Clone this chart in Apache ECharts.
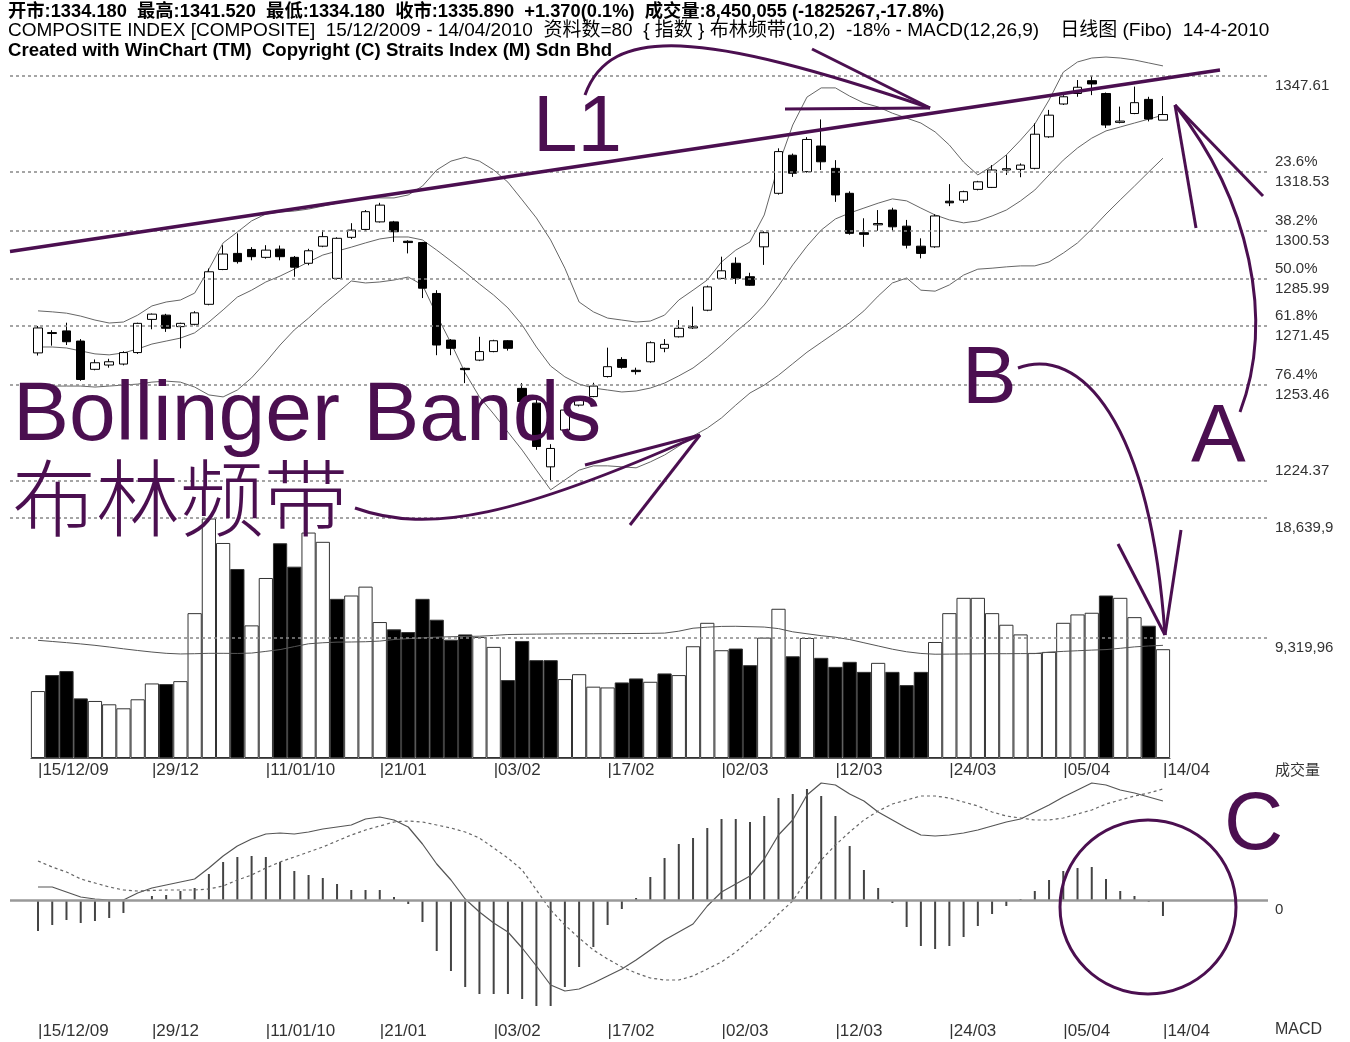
<!DOCTYPE html>
<html>
<head>
<meta charset="utf-8">
<script src="https://cdn.jsdelivr.net/npm/echarts@6/dist/echarts.min.js"></script>
<style>
html, body { margin: 0; padding: 0; background: #fff; }
#chart { width: 1350px; height: 1042px; }
</style>
</head>
<body>
<div id="chart"></div>
<script>
// trading days 15/12/2009 - 14/04/2010 (80 bars)
let dates = ['15/12','16/12','17/12','21/12','22/12','23/12','24/12','28/12','29/12','30/12',
  '31/12','04/01','05/01','06/01','07/01','08/01','11/01','12/01','13/01','14/01',
  '15/01','18/01','19/01','20/01','21/01','22/01','25/01','26/01','27/01','28/01',
  '29/01','02/02','03/02','04/02','05/02','08/02','09/02','10/02','11/02','12/02',
  '17/02','18/02','19/02','22/02','23/02','24/02','25/02','01/03','02/03','03/03',
  '04/03','05/03','08/03','09/03','10/03','11/03','12/03','15/03','16/03','17/03',
  '18/03','19/03','22/03','23/03','24/03','25/03','26/03','29/03','30/03','31/03',
  '01/04','02/04','05/04','06/04','07/04','08/04','09/04','12/04','13/04','14/04'];

let tickIdx = [0, 8, 16, 24, 32, 40, 48, 56, 64, 72, 79];
let tickText = ['15/12/09', '29/12', '11/01/10', '21/01', '03/02', '17/02', '02/03', '12/03', '24/03', '05/04', '14/04'];

let open = [1263.3,1269.2,1270.0,1266.9,1258.3,1259.6,1259.9,1263.4,1273.5,1274.8,
  1271.3,1272.0,1278.1,1288.7,1293.6,1294.8,1292.4,1294.9,1292.4,1290.6,
  1295.8,1286.0,1298.5,1300.9,1303.2,1303.2,1297.3,1296.9,1281.4,1267.2,
  1258.6,1261.1,1263.7,1267.0,1252.5,1248.0,1228.6,1239.8,1247.4,1250.0,
  1256.1,1261.3,1258.0,1260.6,1264.7,1268.2,1270.9,1276.3,1286.0,1290.6,
  1286.5,1295.6,1311.9,1323.5,1318.5,1326.3,1319.5,1311.9,1299.9,1302.3,
  1306.8,1301.9,1295.8,1295.6,1309.5,1309.8,1313.1,1313.7,1319.0,1319.2,
  1319.5,1329.1,1339.1,1342.3,1346.2,1342.3,1333.5,1336.2,1340.5,1334.18];
let high = [1271.5,1270.2,1272.5,1267.5,1261.3,1261.5,1263.8,1272.5,1275.3,1275.2,
  1272.5,1276.0,1289.0,1296.1,1299.7,1295.5,1296.1,1296.0,1292.8,1295.0,
  1300.7,1298.5,1302.8,1306.8,1309.0,1303.5,1297.6,1297.1,1282.4,1267.5,
  1258.8,1268.2,1267.3,1267.2,1254.1,1249.5,1235.5,1246.5,1250.0,1254.2,
  1264.9,1262.0,1258.8,1266.8,1267.5,1273.3,1277.4,1283.8,1292.6,1292.4,
  1287.7,1300.3,1325.6,1324.0,1329.0,1334.4,1322.0,1312.5,1304.3,1306.8,
  1307.5,1303.8,1298.2,1305.5,1314.7,1312.7,1315.7,1320.5,1323.5,1321.0,
  1333.2,1337.3,1341.8,1346.4,1347.61,1342.6,1338.3,1344.4,1341.3,1341.52];
let low = [1262.5,1265.5,1265.7,1254.8,1258.0,1258.8,1259.5,1263.0,1270.5,1269.7,
  1264.7,1271.7,1277.8,1288.5,1290.5,1291.5,1292.0,1291.5,1286.5,1290.0,
  1295.5,1285.5,1298.0,1300.5,1303.0,1297.1,1293.6,1280.0,1262.6,1262.6,
  1254.1,1260.8,1263.5,1264.0,1247.5,1233.8,1224.37,1239.5,1247.0,1249.8,
  1255.8,1258.5,1256.7,1260.3,1263.5,1268.0,1270.6,1276.0,1285.8,1284.3,
  1283.7,1290.1,1311.5,1316.9,1318.2,1319.0,1309.3,1299.3,1295.6,1300.5,
  1300.5,1295.1,1292.1,1295.3,1308.0,1309.0,1312.8,1313.5,1317.5,1316.8,
  1319.2,1328.8,1338.8,1341.3,1341.8,1331.8,1333.2,1336.0,1333.8,1334.18];
let close = [1270.9,1269.5,1266.7,1255.2,1260.3,1260.6,1263.4,1272.3,1275.1,1270.8,
  1272.3,1275.5,1288.0,1293.4,1291.1,1292.6,1294.6,1292.6,1289.4,1294.4,
  1298.7,1298.2,1300.7,1306.3,1308.3,1300.2,1296.9,1283.0,1265.7,1264.7,
  1258.2,1263.7,1267.0,1264.7,1248.5,1234.8,1234.2,1245.9,1249.5,1253.2,
  1259.1,1258.9,1257.6,1266.4,1265.9,1270.8,1271.3,1283.4,1288.3,1286.0,
  1283.9,1299.9,1324.6,1318.0,1328.3,1321.5,1311.4,1299.7,1299.4,1302.7,
  1301.7,1296.1,1293.6,1305.0,1309.0,1312.4,1315.4,1319.0,1319.4,1320.5,
  1329.9,1335.7,1341.3,1344.2,1345.2,1332.7,1333.9,1339.5,1334.52,1335.89];

// Bollinger (10,2)
let bbUpper = [1276.1,1275.8,1275.4,1274.5,1273.3,1272.4,1272.7,1274.8,1277.6,1278.8,
  1279.4,1281.5,1288.8,1296.8,1300.1,1303.5,1305.6,1306.2,1306.5,1307.1,
  1308.0,1308.9,1309.9,1310.5,1310.5,1310.5,1311.4,1314.1,1319.0,1321.7,
  1322.9,1321.7,1319.0,1315.3,1309.9,1304.4,1297.7,1289.1,1278.8,1275.8,
  1273.9,1273.3,1272.7,1273.0,1274.8,1279.4,1282.4,1285.5,1291.0,1294.6,
  1297.1,1305.3,1320.5,1332.7,1341.2,1344.0,1344.0,1341.5,1339.4,1338.2,
  1336.3,1334.8,1333.3,1330.6,1326.6,1321.4,1317.5,1320.2,1323.6,1328.1,
  1333.0,1340.3,1348.8,1351.9,1353.1,1353.4,1353.1,1352.5,1351.6,1350.7];
let bbMid = [1265.1,1265.1,1264.8,1263.9,1263.0,1262.7,1263.3,1264.5,1266.0,1266.9,
  1267.8,1269.4,1272.7,1276.4,1280.3,1282.4,1284.9,1286.7,1288.8,1291.0,
  1293.1,1294.3,1295.5,1296.8,1298.0,1298.6,1298.6,1297.7,1294.6,1291.3,
  1287.9,1284.3,1280.9,1277.0,1271.8,1265.1,1259.3,1256.0,1253.8,1252.6,
  1252.0,1251.4,1251.7,1252.6,1254.1,1256.3,1258.7,1262.0,1265.7,1269.7,
  1273.3,1277.9,1283.7,1290.1,1295.8,1300.7,1304.1,1305.9,1307.4,1308.9,
  1310.2,1309.6,1307.4,1305.3,1303.8,1302.9,1303.5,1305.0,1306.8,1309.6,
  1312.9,1317.5,1322.0,1325.7,1328.7,1330.9,1332.1,1333.3,1334.5,1335.7];
let bbLower = [1253.5,1253.2,1253.2,1253.2,1252.9,1253.2,1253.5,1253.8,1254.4,1254.7,
  1254.4,1252.9,1250.5,1249.9,1252.0,1255.7,1260.5,1265.7,1270.3,1273.9,
  1277.9,1281.5,1285.2,1284.6,1284.9,1285.5,1286.4,1284.0,1274.8,1266.3,
  1257.2,1249.9,1244.7,1239.2,1233.7,1227.6,1221.6,1224.6,1227.6,1228.9,
  1228.9,1228.6,1228.3,1230.1,1232.2,1234.9,1238.0,1240.4,1243.5,1247.4,
  1251.1,1253.5,1256.5,1260.0,1263.5,1266.5,1269.5,1272.5,1276.1,1280.6,
  1284.6,1286.1,1282.4,1282.1,1284.0,1287.0,1288.8,1289.1,1289.5,1289.8,
  1289.8,1291.0,1293.7,1296.8,1301.0,1305.6,1309.9,1314.1,1318.4,1322.6];

// volume ('000) and its moving average
let volume = [5200,6440,6750,4630,4430,4170,3860,4560,5790,5740,
  5970,11250,18600,16700,14680,10300,13980,16680,14860,17510,
  16790,12360,12620,13310,10560,9990,9780,12360,10740,9190,
  9600,9400,8630,6050,9090,7600,7600,6130,6510,5540,
  5480,5870,6180,5920,6570,6440,8680,10500,8370,8500,
  7210,9350,11590,7900,9320,7780,7080,7470,6690,7390,
  6690,5660,6690,9010,11250,12440,12440,11250,10350,9600,
  8160,8240,10500,11150,11280,12620,12440,10940,10275,8450];
let volMA = [9140,9050,8960,8860,8750,8620,8480,8350,8230,8130,
  8080,8100,8130,8130,8120,8150,8280,8420,8650,8870,
  8950,9000,9010,9030,9080,9200,9270,9330,9390,9420,
  9440,9460,9520,9590,9610,9620,9630,9640,9645,9650,
  9655,9660,9670,9680,9700,9850,10080,10160,10220,10230,
  10200,10170,10050,9800,9650,9500,9380,9200,8950,8700,
  8450,8250,8120,8060,8070,8080,8090,8100,8100,8110,
  8110,8220,8280,8330,8380,8420,8520,8630,8700,8750];

// MACD(12,26,9)
let macdHist = [-3.1,-2.5,-2.0,-2.3,-2.1,-1.8,-1.3,-0.1,0.4,0.5,
  0.9,1.2,2.6,3.8,4.3,4.4,4.3,3.8,2.9,2.5,
  2.2,1.6,1.0,1.0,1.0,0.3,-0.4,-2.2,-5.1,-7.1,
  -8.7,-9.4,-9.4,-9.4,-9.9,-10.6,-10.6,-8.7,-6.7,-4.7,
  -2.5,-0.9,0.2,2.3,4.2,5.6,6.2,7.2,8.1,8.1,
  7.8,8.4,10.2,10.6,11.1,10.4,8.4,5.4,3.0,1.2,
  -0.3,-2.7,-4.6,-4.9,-4.6,-3.7,-2.6,-1.4,-0.6,0.1,
  0.9,2.0,2.9,3.2,3.3,2.1,0.9,0.4,-0.2,-1.6];
let macdDif = [1.3,1.3,0.8,0.3,0.1,0.0,0.0,0.7,1.2,1.5,
  1.8,2.1,3.2,4.4,5.4,6.1,6.6,6.7,6.6,6.8,
  7.1,7.3,7.5,8.1,8.3,8.0,7.3,5.6,3.6,2.0,
  0.1,-1.2,-2.3,-3.2,-4.8,-6.6,-8.5,-9.1,-8.9,-8.3,
  -7.6,-6.9,-6.0,-5.0,-4.0,-3.2,-2.4,-0.6,0.8,1.6,
  2.4,4.1,6.5,8.0,10.5,11.7,11.5,10.6,9.9,8.8,
  8.0,7.2,6.5,6.4,6.5,6.7,7.0,7.4,7.8,8.1,
  8.8,9.5,10.3,11.0,11.7,11.5,11.0,10.7,10.3,9.9];
let macdDea = [3.9,3.3,2.8,2.1,1.7,1.3,1.0,0.9,0.95,1.0,
  1.0,1.0,1.1,1.4,2.0,2.5,3.2,3.8,4.3,4.8,
  5.3,5.9,6.5,7.0,7.4,7.8,7.9,7.8,7.5,7.2,
  6.8,6.2,5.2,4.2,3.0,1.0,-1.0,-2.5,-3.8,-5.0,
  -5.9,-6.7,-7.3,-7.8,-8.0,-8.0,-7.6,-6.9,-6.2,-5.2,
  -4.0,-2.8,-1.4,-0.1,2.0,4.0,5.5,6.8,8.0,8.9,
  9.6,10.0,10.4,10.4,10.2,9.8,9.4,8.8,8.4,8.2,
  8.0,8.0,8.2,8.6,9.0,9.6,10.0,10.4,10.7,11.1];

// fibo levels and right-hand scale labels
let fibLevels = [1347.61, 1318.53, 1300.53, 1285.99, 1271.45, 1253.46, 1224.37];
let fibPct = ['', '23.6%', '38.2%', '50.0%', '61.8%', '76.4%', ''];
let volLevels = [18639.9, 9319.96];
let volLevelText = ['18,639,9', '9,319,96'];

let myChart = echarts.init(document.getElementById('chart'));

let purple = '#4b0f50';
let gridL = 30.88, gridW = 1139.2;
let axisFont = '"Liberation Sans", Arial, sans-serif';

let tickMap = {};
tickIdx.forEach((k, j) => { tickMap[k] = tickText[j]; });

let candles = open.map((o, i) => [o, close[i], low[i], high[i]]);
let volBars = volume.map((v, i) => {
  let up = i === 0 ? close[i] >= open[i] : close[i] >= close[i - 1];
  return { value: v, itemStyle: { color: up ? '#fff' : '#000' } };
});

function dateAxis(grid, margin) {
  return {
    type: 'category', gridIndex: grid, data: dates, boundaryGap: true,
    axisTick: { show: false },
    axisLine: { show: grid === 1, lineStyle: { color: '#555', width: 1 } },
    axisLabel: {
      interval: (i) => i in tickMap,
      formatter: (v, i) => '|' + tickMap[i],
      align: 'left', margin: margin, color: '#333',
      fontFamily: axisFont, fontSize: 17
    },
    splitLine: { show: false }
  };
}

function hiddenY(grid, min, max) {
  return { type: 'value', gridIndex: grid, min: min, max: max, show: false, splitLine: { show: false } };
}

function levelLine(grid, items, lineStyle) {
  return {
    type: 'line', xAxisIndex: grid, yAxisIndex: grid, data: [], silent: true, z: 1,
    markLine: {
      symbol: 'none', silent: true, animation: false,
      lineStyle: lineStyle,
      label: {
        position: 'end', distance: 7, color: '#333',
        fontFamily: axisFont, fontSize: 15, lineHeight: 20
      },
      data: items
    }
  };
}

let dashed = { color: '#888', type: [3, 3], width: 1.5 };

let option = {
  animation: false,
  backgroundColor: '#fff',
  grid: [
    { left: gridL, width: gridW, top: 48.5, height: 463 },
    { left: gridL, width: gridW, top: 518, height: 240 },
    { left: gridL, width: gridW, top: 780, height: 230 },
    { left: 10, width: 1258, top: 48.5, height: 463 },
    { left: 10, width: 1258, top: 518, height: 240 },
    { left: 10, width: 1258, top: 780, height: 230 }
  ],
  xAxis: [
    { type: 'category', gridIndex: 0, data: dates, show: false },
    dateAxis(1, 4),
    dateAxis(2, 13),
    { type: 'value', gridIndex: 3, min: 0, max: 1, show: false },
    { type: 'value', gridIndex: 4, min: 0, max: 1, show: false },
    { type: 'value', gridIndex: 5, min: 0, max: 1, show: false }
  ],
  yAxis: [
    hiddenY(0, 1215, 1356),
    hiddenY(1, 0, 18639.9),
    hiddenY(2, -11, 12),
    hiddenY(3, 1215, 1356),
    hiddenY(4, 0, 18639.9),
    hiddenY(5, -11, 12)
  ],
  series: [
    levelLine(3, fibLevels.map((v, i) => ({
      yAxis: v,
      label: {
        formatter: fibPct[i] ? fibPct[i] + '\n' + v.toFixed(2)
          : (i === 0 ? ' \n' + v.toFixed(2) : v.toFixed(2) + '\n ')
      }
    })), dashed),
    levelLine(4, volLevels.map((v, i) => ({
      yAxis: v, label: { formatter: ' \n' + volLevelText[i] }
    })), dashed),
    levelLine(5, [{ yAxis: 0, label: { formatter: ' \n0' } }],
      { color: '#999', type: 'solid', width: 2.5 }),
    {
      name: 'K', type: 'candlestick', xAxisIndex: 0, yAxisIndex: 0, z: 3,
      data: candles, barWidth: 9,
      itemStyle: { color: '#fff', color0: '#000', borderColor: '#000', borderColor0: '#000', borderWidth: 1 }
    },
    { name: 'upper', type: 'line', xAxisIndex: 0, yAxisIndex: 0, data: bbUpper, symbol: 'none', z: 2,
      lineStyle: { color: '#666', width: 1 } },
    { name: 'mid', type: 'line', xAxisIndex: 0, yAxisIndex: 0, data: bbMid, symbol: 'none', z: 2,
      lineStyle: { color: '#666', width: 1 } },
    { name: 'lower', type: 'line', xAxisIndex: 0, yAxisIndex: 0, data: bbLower, symbol: 'none', z: 2,
      lineStyle: { color: '#666', width: 1 } },
    {
      name: 'vol', type: 'bar', xAxisIndex: 1, yAxisIndex: 1, z: 3,
      data: volBars, barWidth: '100%', barCategoryGap: 0,
      itemStyle: { borderColor: '#333', borderWidth: 1 }
    },
    { name: 'volMA', type: 'line', xAxisIndex: 1, yAxisIndex: 1, data: volMA, symbol: 'none', z: 4,
      lineStyle: { color: '#555', width: 1 } },
    { name: 'hist', type: 'bar', xAxisIndex: 2, yAxisIndex: 2, data: macdHist, barWidth: 2, z: 3,
      itemStyle: { color: '#444' } },
    { name: 'DIF', type: 'line', xAxisIndex: 2, yAxisIndex: 2, data: macdDif, symbol: 'none', z: 4,
      lineStyle: { color: '#555', width: 1.2 } },
    { name: 'DEA', type: 'line', xAxisIndex: 2, yAxisIndex: 2, data: macdDea, symbol: 'none', z: 4,
      lineStyle: { color: '#666', width: 1.2, type: [3, 3] } }
  ],
  graphic: [
    // header
    { type: 'text', x: 8, y: 3, z: 50, style: { text: '开市:1334.180  最高:1341.520  最低:1334.180  收市:1335.890  +1.370(0.1%)  成交量:8,450,055 (-1825267,-17.8%)',
      font: 'bold 18.3px "Liberation Sans", "Noto Sans CJK SC", sans-serif', fill: '#000', verticalAlign: 'top' } },
    { type: 'text', x: 8, y: 21, z: 50, style: { text: 'COMPOSITE INDEX [COMPOSITE]  15/12/2009 - 14/04/2010  资料数=80  { 指数 } 布林频带(10,2)  -18% - MACD(12,26,9)    日线图 (Fibo)  14-4-2010',
      font: '19px "Liberation Sans", "Noto Sans CJK SC", sans-serif', fill: '#000', verticalAlign: 'top' } },
    { type: 'text', x: 8, y: 41, z: 50, style: { text: 'Created with WinChart (TM)  Copyright (C) Straits Index (M) Sdn Bhd',
      font: 'bold 18.6px "Liberation Sans", sans-serif', fill: '#000', verticalAlign: 'top' } },
    { type: 'text', x: 1275, y: 762, z: 50, style: { text: '成交量', font: '15px "Noto Sans CJK SC", sans-serif', fill: '#333', verticalAlign: 'top' } },
    { type: 'text', x: 1275, y: 1022, z: 50, style: { text: 'MACD', font: '16px "Liberation Sans", sans-serif', fill: '#333', verticalAlign: 'top' } },

    // hand-drawn annotations
    { type: 'line', z: 60, shape: { x1: 10, y1: 251.5, x2: 1220, y2: 70 }, style: { stroke: purple, lineWidth: 3.5 } },
    { type: 'text', x: 533, y: 89, z: 60, style: { text: 'L1', font: '80px "Liberation Sans", sans-serif', fill: purple, verticalAlign: 'top' } },
    { type: 'bezierCurve', z: 60, shape: { x1: 585, y1: 95, cpx1: 610, cpy1: 25, cpx2: 700, cpy2: 30, x2: 930, y2: 108 },
      style: { stroke: purple, lineWidth: 3, fill: null } },
    { type: 'line', z: 60, shape: { x1: 812, y1: 49, x2: 930, y2: 108 }, style: { stroke: purple, lineWidth: 3 } },
    { type: 'line', z: 60, shape: { x1: 785, y1: 109, x2: 930, y2: 108 }, style: { stroke: purple, lineWidth: 3 } },

    { type: 'text', x: 13, y: 375, z: 60, style: { text: 'Bollinger Bands', font: '84px "Liberation Sans", sans-serif', fill: purple, verticalAlign: 'top' } },
    { type: 'text', x: 12, y: 456, z: 60, style: { text: '布林频带', font: '300 84px "Noto Sans CJK SC", sans-serif', fill: purple, verticalAlign: 'top' } },
    { type: 'bezierCurve', z: 60, shape: { x1: 355, y1: 508, cpx1: 430, cpy1: 535, cpx2: 520, cpy2: 515, x2: 700, y2: 435 },
      style: { stroke: purple, lineWidth: 3, fill: null } },
    { type: 'line', z: 60, shape: { x1: 585, y1: 465, x2: 700, y2: 435 }, style: { stroke: purple, lineWidth: 3 } },
    { type: 'line', z: 60, shape: { x1: 630, y1: 525, x2: 700, y2: 435 }, style: { stroke: purple, lineWidth: 3 } },

    { type: 'text', x: 962, y: 339, z: 60, style: { text: 'B', font: '82px "Liberation Sans", sans-serif', fill: purple, verticalAlign: 'top' } },
    { type: 'bezierCurve', z: 60, shape: { x1: 1018, y1: 368, cpx1: 1080, cpy1: 345, cpx2: 1150, cpy2: 420, x2: 1165, y2: 635 },
      style: { stroke: purple, lineWidth: 3, fill: null } },
    { type: 'line', z: 60, shape: { x1: 1118, y1: 544, x2: 1165, y2: 635 }, style: { stroke: purple, lineWidth: 3 } },
    { type: 'line', z: 60, shape: { x1: 1181, y1: 530, x2: 1165, y2: 635 }, style: { stroke: purple, lineWidth: 3 } },

    { type: 'text', x: 1191, y: 397, z: 60, style: { text: 'A', font: '82px "Liberation Sans", sans-serif', fill: purple, verticalAlign: 'top' } },
    { type: 'bezierCurve', z: 60, shape: { x1: 1240, y1: 412, cpx1: 1275, cpy1: 320, cpx2: 1250, cpy2: 200, x2: 1175, y2: 105 },
      style: { stroke: purple, lineWidth: 3, fill: null } },
    { type: 'line', z: 60, shape: { x1: 1263, y1: 196, x2: 1175, y2: 105 }, style: { stroke: purple, lineWidth: 3 } },
    { type: 'line', z: 60, shape: { x1: 1196, y1: 228, x2: 1175, y2: 105 }, style: { stroke: purple, lineWidth: 3 } },

    { type: 'text', x: 1224, y: 785, z: 60, style: { text: 'C', font: '82px "Liberation Sans", sans-serif', fill: purple, verticalAlign: 'top' } },
    { type: 'ellipse', z: 60, shape: { cx: 1148, cy: 907, rx: 88, ry: 87 }, style: { stroke: purple, lineWidth: 3, fill: null } }
  ]
};

myChart.setOption(option);
</script>
</body>
</html>
